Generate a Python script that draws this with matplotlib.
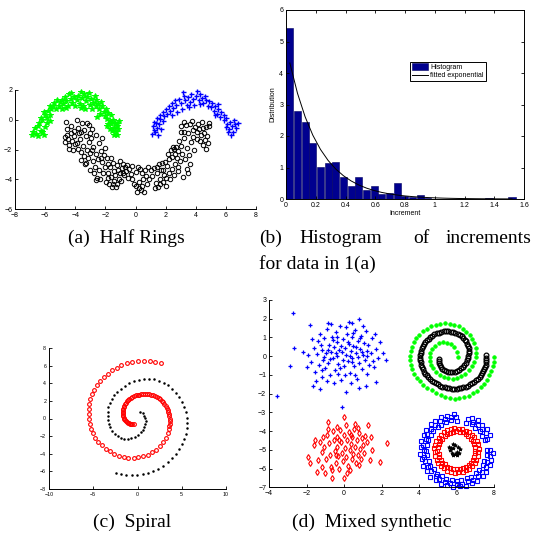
import matplotlib
matplotlib.use('Agg')
import matplotlib.pyplot as plt
import numpy as np

plt.rcParams['font.family'] = ['Liberation Sans', 'DejaVu Sans']

# ---------------- (a) Half rings ----------------
ring_green = [(-6.9,-1.05),(-6.8,-0.8),(-6.6,-0.95),(-6.7,-0.55),(-6.5,-0.4),(-6.3,-0.75),(-6.4,-0.2),(-6.2,-0.05),(-6.1,-1.0),(-6.0,-0.5),(-6.3,0.1),(-6.0,0.3),(-5.9,0.1),(-6.1,0.55),(-5.8,0.6),(-5.7,0.35),(-5.9,-0.2),(-6.5,-1.1),(-6.2,-0.85),(-5.7,-0.1),
    (-5.6,0.75),(-5.5,0.9),(-5.3,0.7),(-5.4,1.1),(-5.1,0.95),(-5.0,1.2),(-4.9,1.35),(-4.8,1.05),(-4.7,1.5),(-4.6,1.25),(-4.5,0.95),(-4.4,1.7),(-4.3,1.4),(-4.2,1.15),(-4.6,0.8),(-5.2,1.3),(-5.7,0.9),(-4.9,0.75),(-4.25,1.8),(-4.1,1.55),
    (-3.9,1.3),(-3.8,1.6),(-3.7,1.05),(-3.6,1.85),(-3.55,1.45),(-3.5,0.95),(-3.4,1.7),(-3.3,1.25),(-3.2,1.55),(-3.1,1.8),(-3.0,1.0),(-2.95,1.4),(-2.9,0.75),(-2.8,1.15),(-2.7,1.6),(-2.65,0.9),(-2.6,1.3),(-3.65,0.8),(-3.35,0.7),(-4.0,0.9),
    (-2.5,1.05),(-2.4,0.7),(-2.35,0.4),(-2.2,0.9),(-2.1,0.55),(-2.0,0.25),(-1.95,0.75),(-1.9,0.05),(-1.8,0.45),(-1.7,-0.1),(-1.65,0.3),(-2.3,1.2),(-2.55,0.2),(-1.85,-0.3),
    (-1.6,-0.3),(-1.5,-0.05),(-1.45,-0.55),(-1.35,-0.2),(-1.3,-0.8),(-1.25,-0.45),(-1.2,-1.0),(-1.15,-0.65),(-1.1,-0.1),(-1.55,-0.75),(-1.7,-0.6),(-1.4,-1.05),(-1.9,-0.45),(-1.25,-0.3)]

ring_blue = [(1.1,-0.95),(1.2,-0.7),(1.15,-0.4),(1.3,-0.85),(1.35,-0.2),(1.4,-0.55),(1.5,-1.0),(1.55,-0.3),(1.6,0.05),(1.7,-0.6),(1.45,0.1),(1.25,-0.15),(1.8,-0.1),(1.65,0.35),
    (1.8,0.5),(1.9,0.25),(2.0,0.75),(2.1,0.4),(2.2,0.95),(2.3,0.6),(2.4,1.1),(2.5,0.8),(2.6,1.3),(2.7,1.0),(2.75,0.55),(2.9,1.4),(3.0,1.15),(3.1,0.7),(2.45,0.3),
    (3.2,1.6),(3.3,1.3),(3.4,1.0),(3.5,1.55),(3.6,1.2),(3.7,1.75),(3.8,1.4),(3.9,1.0),(4.0,1.6),(4.1,1.9),(4.2,1.3),(4.3,1.7),(4.4,1.45),(4.5,1.1),(4.6,1.6),(4.7,1.35),(4.8,0.95),(3.15,1.85),(4.25,1.05),(3.55,0.85),
    (4.9,1.25),(5.0,0.85),(5.1,1.1),(5.2,0.6),(5.3,0.95),(5.4,0.4),(5.5,0.75),(5.6,0.2),(5.7,0.55),(5.5,1.05),(5.85,0.3),(5.9,-0.05),(5.25,0.3),
    (6.0,0.1),(6.1,-0.3),(6.2,-0.6),(6.3,-0.15),(6.4,-0.45),(6.5,-0.8),(6.6,-0.3),(6.7,-0.55),(6.35,-1.0),(6.15,-0.85),(6.55,-0.05),(6.8,-0.25),(6.0,-0.5)]

ring_black = [(-4.6,-0.15),(-4.55,-0.6),(-4.7,-1.15),(-4.65,-1.5),(-4.5,-1.3),(-4.4,-1.7),(-4.3,-0.9),(-4.2,-1.4),(-4.15,-2.0),(-4.1,-0.75),(-4.05,-1.1),(-4.4,-1.95),(-4.0,-1.65),(-4.25,-0.4),(-4.55,-1.0),
    (-3.9,0.0),(-3.85,-0.55),(-3.75,-0.9),(-3.7,-1.3),(-3.65,-2.7),(-3.6,-2.15),(-3.55,-0.25),(-3.5,-1.75),(-3.45,-2.45),(-3.4,-0.7),(-3.35,-3.0),(-3.3,-1.1),(-3.25,-2.0),(-3.2,-0.2),(-3.15,-2.6),(-3.1,-1.5),(-3.05,-3.4),(-3.0,-0.9),(-3.0,-2.25),(-3.8,-1.95),(-3.6,-0.8),(-3.3,-2.9),(-3.1,-0.35),(-3.9,-1.55),
    (-2.95,-1.25),(-2.9,-0.6),(-2.85,-2.8),(-2.8,-1.8),(-2.75,-3.6),(-2.7,-3.15),(-2.65,-2.3),(-2.6,-1.0),(-2.55,-3.9),(-2.5,-2.65),(-2.45,-1.55),(-2.4,-3.35),(-2.35,-3.95),(-2.3,-2.1),(-2.25,-1.2),(-2.2,-2.85),(-2.15,-3.6),(-2.1,-2.35),(-2.05,-1.9),(-2.0,-3.15),(-2.9,-2.05),(-2.6,-4.05),(-2.3,-2.55),
    (-1.95,-4.2),(-1.9,-2.6),(-1.85,-3.55),(-1.8,-2.95),(-1.75,-4.35),(-1.7,-3.2),(-1.65,-2.55),(-1.6,-3.85),(-1.55,-4.55),(-1.5,-2.9),(-1.45,-3.45),(-1.4,-4.1),(-1.35,-3.7),(-1.3,-4.55),(-1.25,-3.05),(-1.2,-4.3),(-1.15,-3.35),(-1.1,-3.95),(-1.05,-2.8),(-1.0,-3.6),(-1.5,-4.35),(-1.8,-3.9),
    (-0.95,-4.15),(-0.9,-3.25),(-0.8,-3.0),(-0.75,-3.7),(-0.7,-3.2),(-0.6,-3.45),(-0.55,-3.05),(-0.5,-3.9),(-0.4,-3.3),(-0.3,-3.65),(-0.2,-3.1),(-0.1,-4.3),(0.0,-3.5),(-0.25,-4.0),(-0.85,-3.55),
    (0.05,-4.45),(0.1,-4.85),(0.2,-4.6),(0.3,-3.3),(0.35,-4.75),(0.4,-3.6),(0.45,-4.45),(0.5,-3.95),(0.55,-4.85),(0.6,-3.4),(0.7,-3.75),(0.8,-3.2),(0.9,-4.0),(0.15,-3.15),(0.25,-4.2),(0.75,-4.35),
    (1.0,-3.35),(1.1,-3.8),(1.2,-3.25),(1.3,-4.6),(1.35,-4.25),(1.4,-3.6),(1.5,-4.5),(1.55,-3.0),(1.6,-3.95),(1.65,-4.35),(1.7,-3.4),(1.8,-4.2),(1.85,-3.35),(1.9,-3.7),(1.95,-2.85),(2.0,-4.45),(1.45,-3.15),(1.75,-2.9),
    (2.05,-3.9),(2.1,-3.1),(2.15,-2.3),(2.2,-3.55),(2.25,-2.65),(2.3,-3.95),(2.35,-2.0),(2.4,-3.3),(2.45,-2.5),(2.5,-1.85),(2.55,-3.7),(2.6,-2.3),(2.65,-3.0),(2.7,-1.8),(2.75,-2.6),(2.8,-3.45),(2.85,-2.1),(2.9,-1.4),(2.95,-2.8),(3.0,-0.8),(3.0,-1.75),(2.55,-1.95),(2.85,-3.2),
    (3.05,-0.45),(3.1,-2.3),(3.15,-3.85),(3.2,-0.8),(3.25,-1.2),(3.3,-2.65),(3.35,-0.35),(3.4,-1.9),(3.45,-3.3),(3.5,-0.9),(3.55,-2.4),(3.6,-2.95),(3.65,-0.3),(3.7,-1.5),(3.75,-0.1),(3.8,-0.7),(3.85,-1.15),(3.9,-2.0),(3.95,-0.5),(3.5,-3.6),(3.25,-0.15),
    (4.05,-0.85),(4.1,-1.3),(4.15,-0.3),(4.2,-0.65),(4.3,-1.45),(4.35,-1.0),(4.4,-0.15),(4.45,-1.7),(4.5,-0.55),(4.6,-1.35),(4.65,-1.95),(4.7,-0.5),(4.8,-1.55),(4.85,-0.25),(4.9,-0.45),(4.75,-1.1),(4.55,-0.9)]

# ---------------- (b) Histogram ----------------
hist_start = 0.0
hist_bin_width = 0.0515
hist_heights = [5.44, 2.78, 2.46, 1.78, 1.03, 1.13, 1.16, 0.70, 0.41, 0.71, 0.29, 0.41, 0.17, 0.19, 0.50,
                0.11, 0.07, 0.14, 0.02, 0.01, 0.0, 0.0, 0.0, 0.0, 0.0, 0.0, 0.03, 0.0, 0.0, 0.07]
fit_rate = 4.9

# ---------------- (c) Spiral ----------------
spiral_red = [(2.65,6.26),(2.00,6.45),(1.36,6.53),(0.68,6.57),(0.04,6.49),(-0.60,6.42),(-1.21,6.26),(-1.81,6.04),(-2.34,5.77),(-2.87,5.47),(-3.36,5.09),(-3.82,4.68),(-4.23,4.23),(-4.61,3.77),(-4.91,3.25),(-5.14,2.75),(-5.33,2.23),(-5.44,1.66),(-5.52,1.09),(-5.52,0.53),(-5.48,-0.04),(-5.40,-0.60),(-5.25,-1.17),(-5.03,-1.70),(-4.76,-2.19),(-4.42,-2.64),(-4.01,-3.06),(-3.55,-3.43),(-3.10,-3.74),(-2.61,-4.00),(-2.08,-4.23),(-1.55,-4.38),(-1.02,-4.45),(-0.45,-4.45),(0.08,-4.42),(0.60,-4.30),(1.13,-4.11),(1.63,-3.85),(2.08,-3.55),(2.49,-3.17),(2.87,-2.72),(3.17,-2.23),(3.40,-1.70),(3.55,-1.17),(3.60,-0.88),(3.63,-0.60),(3.64,-0.32),(3.63,-0.04),(3.60,0.23),(3.55,0.49),(3.48,0.74),(3.40,0.98),(3.29,1.21),(3.17,1.43),(3.04,1.65),(2.91,1.85),(2.74,2.03),(2.57,2.19),(2.38,2.33),(2.19,2.45),(1.99,2.55),(1.78,2.64),(1.55,2.70),(1.32,2.75),(1.10,2.78),(0.87,2.79),(0.65,2.78),(0.42,2.75),(0.21,2.72),(0.0,2.68),(-0.21,2.62),(-0.42,2.53),(-0.59,2.44),(-0.76,2.34),(-0.91,2.22),(-1.06,2.08),(-1.19,1.93),(-1.32,1.77),(-1.42,1.60),(-1.51,1.43),(-1.58,1.26),(-1.63,1.09),(-1.65,0.92),(-1.66,0.75),(-1.65,0.58),(-1.63,0.42),(-1.60,0.26),(-1.55,0.11),(-1.48,-0.02),(-1.40,-0.15),(-1.31,-0.27),(-1.21,-0.38),(-1.10,-0.46),(-0.98,-0.53),(-0.85,-0.59),(-0.72,-0.64),(-0.58,-0.67),(-0.45,-0.68)]

spiral_black = [(0.30,0.79),(0.57,0.60),(0.76,0.34),(0.87,0.04),(0.91,-0.30),(0.87,-0.64),(0.76,-0.98),(0.57,-1.28),(0.34,-1.58),(0.04,-1.85),(-0.30,-2.08),(-0.68,-2.23),(-1.06,-2.30),(-1.47,-2.30),(-1.85,-2.19),(-2.23,-2.00),(-2.57,-1.74),(-2.83,-1.40),(-3.06,-1.02),(-3.21,-0.60),(-3.33,-0.15),(-3.36,0.30),(-3.36,0.79),(-3.29,1.28),(-3.14,1.77),(-2.91,2.23),(-2.61,2.64),(-2.27,3.06),(-1.85,3.40),(-1.40,3.74),(-0.91,4.00),(-0.38,4.23),(0.19,4.42),(0.76,4.53),(1.32,4.53),(1.89,4.45),(2.46,4.30),(2.99,4.08),(3.48,3.77),(3.93,3.40),(4.35,2.94),(4.72,2.45),(5.03,1.92),(5.25,1.32),(5.44,0.72),(5.56,0.11),(5.59,-0.49),(5.56,-1.09),(5.44,-1.74),(5.25,-2.34),(5.03,-2.94),(4.72,-3.51),(4.35,-4.04),(3.93,-4.53),(3.44,-4.98),(2.91,-5.36),(2.34,-5.70),(1.78,-5.96),(1.17,-6.19),(0.57,-6.34),(-0.04,-6.45),(-0.64,-6.45),(-1.25,-6.42),(-1.85,-6.30),(-2.46,-6.15)]

# ---------------- (d) Mixed synthetic ----------------
gauss_blue = [(-2.74,2.29),(-3.59,-2.12),(-2.90,-0.51),(-2.67,0.42),(-2.17,0.21),(-1.81,1.67),(-0.84,1.75),(0.27,1.84),(0.80,1.97),(1.65,1.17),(2.24,-0.20),(2.06,0.19),(1.71,-1.36),(-1.67,-1.59),(-1.28,-1.77),(0.11,-1.89),(0.82,-1.72),(1.16,-1.59),(-0.09,-2.69),
    (-1.9,0.05),(-1.75,-0.3),(-1.6,0.45),(-1.55,-0.85),(-1.45,0.1),(-1.4,0.8),(-1.35,-0.45),(-1.3,1.2),(-1.2,-1.1),(-1.15,0.35),(-1.1,-0.2),(-1.05,0.95),(-1.0,-0.65),(-0.95,0.15),(-0.9,1.45),(-0.85,-0.35),(-0.8,0.6),(-0.75,-1.0),(-0.7,0.25),(-0.65,1.0),(-0.6,-0.1),(-0.55,0.5),(-0.5,-0.75),(-0.45,1.3),(-0.4,0.0),(-0.35,0.75),(-0.3,-0.4),(-0.25,0.35),(-0.2,1.6),(-0.15,-1.25),(-0.1,0.2),(-0.05,0.9),(0.0,-0.5),(0.05,0.45),(0.1,0.05),(0.15,1.2),(0.2,-0.25),(0.25,0.65),(0.3,-0.9),(0.35,0.3),(0.4,1.05),(0.45,-0.1),(0.5,0.55),(0.55,-0.55),(0.6,1.4),(0.65,0.15),(0.7,-1.2),(0.75,0.8),(0.8,-0.35),(0.85,0.4),(0.9,1.1),(0.95,-0.7),(1.0,0.05),(1.05,0.7),(1.1,-0.2),(1.15,1.35),(1.2,0.3),(1.25,-0.95),(1.3,0.6),(1.35,-0.45),(1.45,0.15),(1.5,0.95),(1.6,-0.6),(1.7,0.4),(1.8,-0.1),(1.9,0.75),(-1.25,0.6),(-0.9,-1.3),(-0.55,-1.45),(-0.3,-0.95),(0.35,-1.45),(0.6,-1.0),(-1.7,0.9),(-2.0,-0.6),(-0.7,1.7),(0.1,1.55),(0.45,1.75),(1.0,1.6),(-1.5,-1.3),(-0.05,-0.2),(0.2,0.75),(-0.45,0.15),(0.65,0.5),(-0.2,-0.65),(0.95,0.25),(-0.85,0.35),(0.3,0.0),(-0.35,1.0),(0.75,-0.05),(-1.05,-0.05),(0.05,-1.0),(1.25,0.0),(-0.6,0.85),(0.5,1.25),(-0.15,0.55),(0.4,-0.3),(1.55,-0.25),(-1.2,-0.75),(0.85,0.95),(-0.75,-0.15)]

gauss_red = [(0.0,-3.23),(-0.84,-3.49),(1.30,-3.67),(2.28,-4.65),(-1.90,-5.36),(-1.81,-5.68),(-1.42,-6.16),(-0.66,-6.52),(0.14,-6.25),(1.37,-5.54),(1.92,-5.63),(-1.55,-4.47),(-1.10,-4.30),(0.76,-3.85),(-0.39,-3.76),
    (-1.3,-4.6),(-1.2,-5.1),(-1.05,-4.85),(-0.95,-5.5),(-0.9,-4.2),(-0.8,-4.65),(-0.75,-5.25),(-0.7,-5.9),(-0.6,-4.0),(-0.55,-4.45),(-0.5,-5.05),(-0.45,-5.7),(-0.4,-4.3),(-0.35,-4.85),(-0.3,-5.35),(-0.25,-6.0),(-0.2,-3.95),(-0.15,-4.6),(-0.1,-5.15),(-0.05,-5.6),(0.0,-4.2),(0.05,-4.9),(0.1,-5.4),(0.15,-4.45),(0.2,-5.85),(0.25,-4.05),(0.3,-5.0),(0.35,-4.7),(0.4,-5.5),(0.45,-4.3),(0.5,-5.2),(0.55,-3.9),(0.6,-4.85),(0.65,-5.7),(0.7,-4.5),(0.75,-5.3),(0.8,-4.1),(0.85,-4.95),(0.9,-5.5),(0.95,-4.35),(1.0,-4.75),(1.05,-5.15),(1.1,-4.25),(1.2,-4.6),(-1.4,-5.55),(-1.6,-4.75),(-1.2,-5.9),(-0.65,-6.1),(0.3,-6.1),(1.5,-5.0),(1.45,-4.3),(-0.25,-4.5),(0.1,-3.7),(-0.85,-3.9),(0.6,-3.6),(-0.45,-5.25),(0.35,-4.2),(0.8,-5.8),(-1.0,-6.25),(0.0,-6.5)]

twin_green = [(6.06,-0.02),(6.01,0.24),(5.88,0.47),(5.71,0.63),(5.49,0.72),(5.26,0.74),(5.05,0.69),(4.85,0.56),(4.71,0.38),(4.60,0.19),(4.57,-0.02),(4.59,-0.24),(4.66,-0.45),(4.76,-0.65),(4.92,-0.83),(5.12,-0.99),(5.33,-1.11),(5.56,-1.18),(5.80,-1.20),(6.03,-1.16),(6.26,-1.07),(6.47,-0.93),(6.67,-0.75),(6.83,-0.54),(6.95,-0.31),(7.02,-0.06),(7.04,0.19),(7.02,0.44),(6.95,0.69),(6.84,0.92),(6.70,1.13),(6.52,1.31),(6.33,1.47),(6.12,1.59),(5.88,1.68),(5.64,1.74),(5.39,1.75),(5.14,1.74),(4.89,1.68),(4.64,1.59),(4.41,1.47),(4.20,1.33),(4.02,1.15),(3.86,0.95),(3.73,0.74),(3.63,0.51),(3.57,0.28),(3.54,0.03),(3.54,-0.22),(3.57,-0.47),(3.64,-0.70),(3.75,-0.93),(3.89,-1.15),(4.05,-1.34),(4.23,-1.52),(4.44,-1.68),(4.68,-1.82),(4.91,-1.95),(5.16,-2.05),(5.40,-2.20),(5.65,-2.25),(5.90,-2.27),(6.15,-2.25),(6.40,-2.20),(6.65,-2.11),(6.88,-1.98),(7.09,-1.84),(7.29,-1.66),(7.47,-1.47),(7.63,-1.25),(7.75,-1.02),(7.86,-0.79),(7.95,-0.54),(7.99,-0.29),(8.02,-0.02)]

twin_black = [(5.07,-0.17),(5.07,-0.28),(5.08,-0.38),(5.12,-0.49),(5.17,-0.59),(5.25,-0.68),(5.33,-0.75),(5.44,-0.80),(5.55,-0.84),(5.66,-0.86),(5.78,-0.86),(5.90,-0.83),(6.01,-0.79),(6.12,-0.73),(6.22,-0.65),(6.32,-0.56),(6.40,-0.45),(6.48,-0.34),(6.54,-0.22),(6.59,-0.10),(6.63,0.03),(6.66,0.16),(6.67,0.30),(6.66,0.42),(6.63,0.54),(6.58,0.67),(6.52,0.79),(6.45,0.89),(6.36,0.99),(6.27,1.08),(6.17,1.15),(6.06,1.21),(5.94,1.26),(5.82,1.29),(5.69,1.31),(5.56,1.33),(5.44,1.33),(5.31,1.32),(5.19,1.29),(5.06,1.26),(4.94,1.22),(4.82,1.16),(4.71,1.10),(4.61,1.02),(4.52,0.94),(4.43,0.84),(4.34,0.74),(4.27,0.64),(4.21,0.53),(4.16,0.42),(4.12,0.30),(4.09,0.18),(4.07,0.05),(4.06,-0.08),(4.07,-0.20),(4.08,-0.33),(4.11,-0.45),(4.15,-0.58),(4.20,-0.70),(4.26,-0.82),(4.32,-0.93),(4.40,-1.03),(4.48,-1.13),(4.58,-1.22),(4.68,-1.31),(4.78,-1.38),(4.89,-1.45),(5.00,-1.51),(5.12,-1.57),(5.24,-1.62),(5.37,-1.66),(5.49,-1.69),(5.62,-1.72),(5.74,-1.73),(5.87,-1.73),(6.00,-1.73),(6.12,-1.72),(6.24,-1.69),(6.36,-1.66),(6.49,-1.62),(6.61,-1.57),(6.73,-1.51),(6.84,-1.45),(6.95,-1.37),(7.06,-1.29),(7.15,-1.20),(7.24,-1.11),(7.31,-1.01),(7.38,-0.91),(7.43,-0.80),(7.48,-0.68),(7.52,-0.57),(7.56,-0.45),(7.58,-0.33),(7.59,-0.20),(7.59,-0.08),(7.59,0.05)]

circle_blue = [(7.60,-5.03),(7.52,-4.46),(7.37,-4.25),(7.25,-3.98),(7.01,-3.82),(6.82,-3.62),(6.53,-3.55),(6.00,-3.47),(5.70,-3.43),(5.46,-3.51),(5.19,-3.66),(4.99,-3.78),(4.75,-4.02),(4.63,-4.21),(4.48,-4.50),(4.44,-4.73),(4.38,-5.05),(4.43,-5.29),(4.52,-5.60),(4.59,-5.85),(4.79,-6.04),(4.95,-6.28),(5.22,-6.40),(5.43,-6.55),(5.74,-6.59),(6.02,-6.65),(6.26,-6.59),(6.57,-6.51),(6.78,-6.44),(7.05,-6.24),(7.21,-6.08),(7.41,-5.81),(7.48,-5.60),(7.60,-5.29),
    (7.77,-4.21),(7.62,-3.89),(7.36,-3.67),(7.14,-3.41),(6.81,-3.28),(5.85,-3.07),(5.47,-3.17),(5.19,-3.24),(4.86,-3.45),(4.64,-3.63),(4.38,-3.93),(4.25,-4.19),(4.10,-4.55),(4.08,-4.84),(4.04,-5.22),(4.14,-5.51),(4.21,-5.87),(4.42,-6.13),(4.60,-6.43),(4.90,-6.61),(5.15,-6.82),(5.51,-6.89),(5.81,-6.99),(6.19,-6.95),(6.49,-6.93),(6.85,-6.78),(7.10,-6.65),(7.40,-6.39),(7.58,-6.17),(7.79,-5.83),(7.86,-5.55),(7.96,-5.18),
    (7.80,-5.01),(7.65,-4.44),(7.56,-4.12),(7.34,-3.91),(7.16,-3.65),(6.87,-3.51),(6.63,-3.34),(5.98,-3.27),(5.71,-3.26),(5.37,-3.38),(5.13,-3.47),(4.84,-3.69),(4.66,-3.87),(4.44,-4.16),(4.35,-4.40),(4.23,-4.74),(4.24,-5.01),(4.27,-5.36),(4.31,-5.62),(4.48,-5.94),(4.62,-6.15),(4.88,-6.41),(5.09,-6.55),(5.41,-6.72),(5.67,-6.76),(6.02,-6.83),(6.29,-6.80),(6.63,-6.68),(6.87,-6.59),(7.16,-6.37),(7.34,-6.19),(7.56,-5.90),(7.65,-5.66),(7.77,-5.32)]

circle_red = [(7.01,-5.05),(6.97,-4.84),(6.95,-4.70),(6.86,-4.51),(6.79,-4.40),(6.63,-4.24),(6.52,-4.17),(6.33,-4.07),(6.18,-4.06),(5.99,-4.01),(5.82,-4.07),(5.67,-4.08),(5.49,-4.18),(5.37,-4.24),(5.21,-4.41),(5.14,-4.52),(5.04,-4.70),(5.03,-4.85),(4.98,-5.04),(5.04,-5.21),(5.05,-5.38),(5.15,-5.52),(5.22,-5.69),(5.37,-5.78),(5.49,-5.92),(5.67,-5.95),(5.82,-6.03),(6.01,-6.01),(6.16,-6.03),(6.35,-5.95),(6.49,-5.92),(6.66,-5.79),(6.76,-5.69),(6.89,-5.52),(6.93,-5.38),(7.01,-5.19),
    (7.19,-4.94),(7.13,-4.70),(7.08,-4.55),(6.95,-4.33),(6.84,-4.21),(6.66,-4.04),(6.51,-3.97),(6.30,-3.87),(6.11,-3.88),(5.89,-3.85),(5.70,-3.90),(5.49,-3.94),(5.33,-4.07),(5.16,-4.19),(5.04,-4.37),(4.92,-4.52),(4.87,-4.74),(4.81,-4.92),(4.83,-5.14),(4.85,-5.33),(4.94,-5.54),(5.02,-5.70),(5.18,-5.87),(5.31,-5.99),(5.51,-6.11),(5.68,-6.16),(5.91,-6.22),(6.09,-6.20),(6.32,-6.18),(6.49,-6.09),(6.69,-6.01),(6.82,-5.85),(6.98,-5.72),(7.06,-5.52),(7.15,-5.35),(7.17,-5.12)]

center_black = [(5.65,-5.01),(5.74,-5.19),(5.83,-5.27),(6.01,-5.27),(6.15,-5.15),(6.19,-4.97),(5.92,-4.74),(5.80,-4.92),(5.62,-4.83),(6.10,-4.83),(5.83,-4.69),(5.70,-4.88),(6.05,-5.10),(5.90,-5.20)]

# ---------------- figure ----------------
W, H = 538, 533
fig = plt.figure(figsize=(W / 100, H / 100), dpi=100)


def px_axes(l, t, r, b):
    return fig.add_axes([l / W, 1 - b / H, (r - l) / W, (b - t) / H])


def style(ax, box=False, fs=5.0):
    for s in ['top', 'right']:
        ax.spines[s].set_visible(box)
    for s in ax.spines.values():
        s.set_linewidth(0.7)
    ax.tick_params(direction='in', length=2.5, width=0.6, labelsize=fs, pad=2,
                   top=box, right=box)


def pts(ax, data, **kw):
    xs = [p[0] for p in data]
    ys = [p[1] for p in data]
    return ax.plot(xs, ys, linestyle='none', clip_on=False, **kw)


# (a)
ax = px_axes(15, 90, 256, 209)
pts(ax, ring_black, marker='o', color='k', mfc='none', ms=3.2, mew=0.7)
pts(ax, ring_green, marker='*', color='#00ff00', ms=3.8, mew=0.7)
pts(ax, ring_blue, marker='+', color='#0000ff', ms=3.6, mew=1.0)
ax.set_xlim(-8, 8)
ax.set_ylim(-6, 2)
ax.set_xticks(range(-8, 9, 2))
ax.set_yticks(range(-6, 3, 2))
style(ax, fs=5.0)

# (b)
ax = px_axes(286, 10, 524, 199)
centers = [hist_start + hist_bin_width * (k + 0.5) for k in range(len(hist_heights))]
bars = ax.bar(centers, hist_heights, width=hist_bin_width * 0.92, color='#00008f',
              edgecolor='#000060', linewidth=0.4)
cx = np.array(centers)
fit_line, = ax.plot(cx, fit_rate * np.exp(-fit_rate * cx), color='k', lw=0.7)
ax.set_xlim(0, 1.6)
ax.set_ylim(0, 6)
ax.set_xticks([0, 0.2, 0.4, 0.6, 0.8, 1, 1.2, 1.4, 1.6])
ax.set_xticklabels(['0', '0.2', '0.4', '0.6', '0.8', '1', '1.2', '1.4', '1.6'])
ax.set_yticks(range(0, 7))
style(ax, box=True, fs=5.0)
ax.set_xlabel('Increment', fontsize=5.0, labelpad=1)
ax.set_ylabel('Distribution', fontsize=5.0, labelpad=2)
leg = ax.legend([bars, fit_line], ['Histogram', 'fitted exponential'],
                loc='upper left', bbox_to_anchor=(0.521, 0.727), fontsize=5.0,
                frameon=True, fancybox=False, edgecolor='k', framealpha=1,
                handlelength=2.4, handleheight=1.0, borderpad=0.25, labelspacing=0.15,
                handletextpad=0.3, borderaxespad=0)
leg.get_frame().set_linewidth(0.7)

# (c)
ax = px_axes(49, 348, 226, 489)
pts(ax, spiral_red, marker='o', color='#ff0000', mfc='none', ms=2.7, mew=0.8)
pts(ax, spiral_black, marker='.', color='k', ms=1.6)
ax.set_xlim(-10, 10)
ax.set_ylim(-8, 8)
ax.set_xticks(range(-10, 11, 5))
ax.set_yticks(range(-8, 9, 2))
style(ax, fs=3.8)
ax.tick_params(length=2)

# (d)
ax = px_axes(269, 300, 494, 487.3)
pts(ax, gauss_blue, marker='+', color='#0000ff', ms=3.4, mew=0.9)
pts(ax, gauss_red, marker='d', color='#ff0000', mfc='none', ms=3.0, mew=0.8)
pts(ax, twin_green, marker='o', color='#00ff00', ms=2.6, mew=0.5)
pts(ax, twin_black, marker='o', color='k', mfc='none', ms=3.4, mew=0.9)
pts(ax, circle_blue, marker='s', color='#0000ff', mfc='none', ms=3.2, mew=0.8)
pts(ax, circle_red, marker='s', color='#ff0000', mfc='none', ms=3.0, mew=0.8)
pts(ax, center_black, marker='*', color='k', ms=2.8, mew=0.6)
ax.set_xlim(-4, 8)
ax.set_ylim(-7, 3)
ax.set_xticks(range(-4, 9, 2))
ax.set_yticks(range(-7, 4, 1))
style(ax, fs=5.0)

# captions
cap = dict(family=['Liberation Serif', 'DejaVu Serif'], fontsize=14, va='baseline')


def fx(x):
    return x / W


def fy(y):
    return 1 - y / H


fig.text(fx(68), fy(243), '(a)  Half Rings', ha='left', **cap)
fig.text(fx(259), fy(243), '(b)', ha='left', **cap)
fig.text(fx(299), fy(243), 'Histogram', ha='left', **cap)
fig.text(fx(413), fy(243), 'of', ha='left', **cap)
fig.text(fx(531), fy(243), 'increments', ha='right', **cap)
fig.text(fx(259), fy(269), 'for data in 1(a)', ha='left', **cap)
fig.text(fx(93), fy(527), '(c)  Spiral', ha='left', **cap)
fig.text(fx(292), fy(527), '(d)  Mixed synthetic', ha='left', **cap)

fig.savefig('out.png', dpi=100)
